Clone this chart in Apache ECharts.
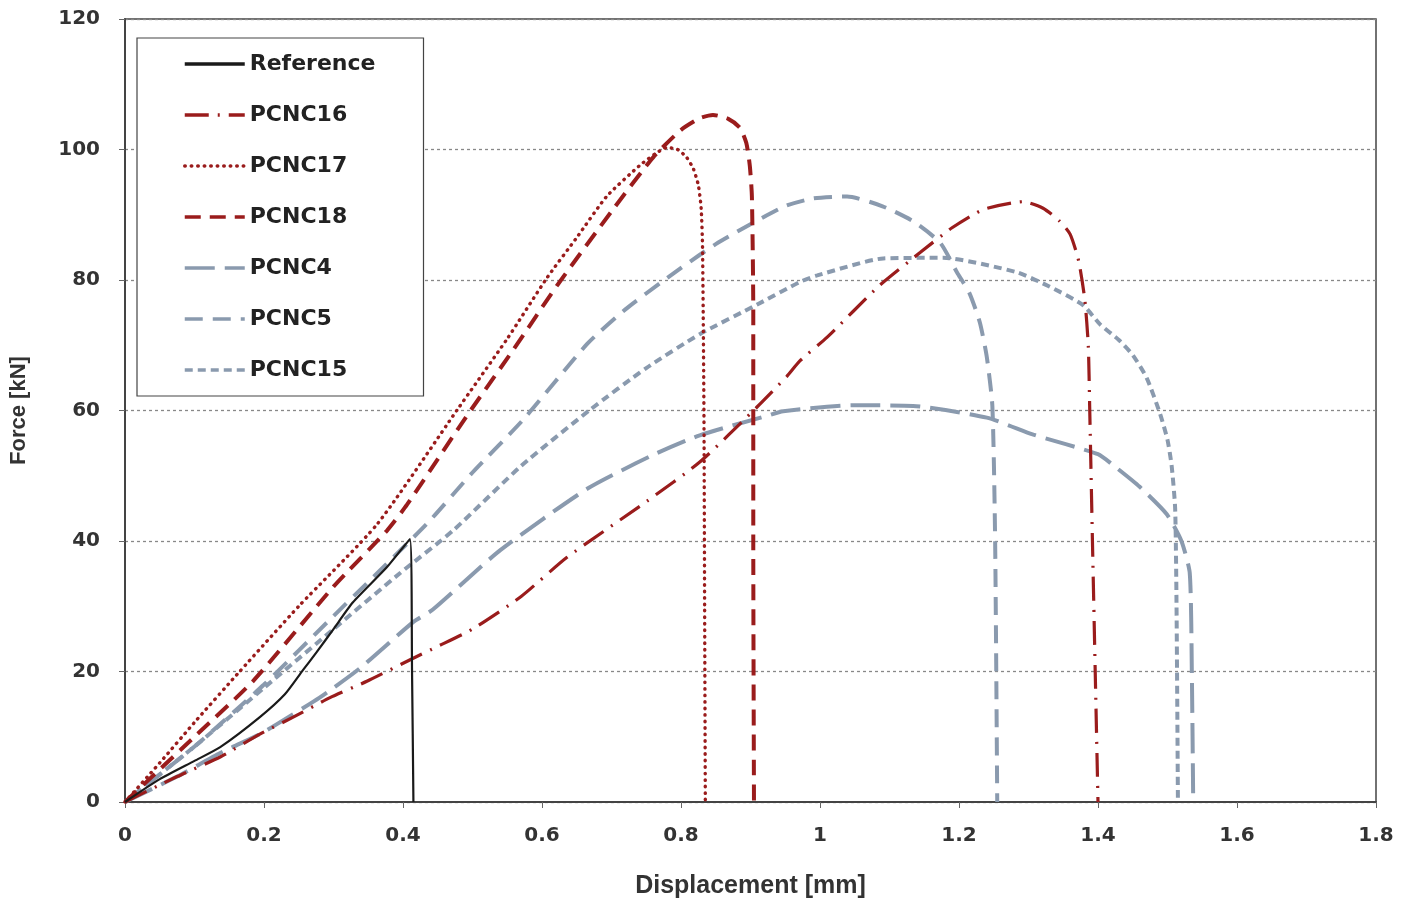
<!DOCTYPE html>
<html>
<head>
<meta charset="utf-8">
<script src="https://cdn.jsdelivr.net/npm/echarts@6/dist/echarts.min.js"></script>
<style>
html,body{margin:0;padding:0;background:#fff;}
#chart{width:1406px;height:904px;}
</style>
</head>
<body>
<div id="chart"></div>
<script>
// ---- data (displacement mm, force kN) ----
const seriesNames = ['Reference','PCNC16','PCNC17','PCNC18','PCNC4','PCNC5','PCNC15'];
const xTicks = [0,0.2,0.4,0.6,0.8,1,1.2,1.4,1.6,1.8];
const yTicks = [0,20,40,60,80,100,120];

const refData = [[0,0],[0.05,3.5],[0.1,6.3],[0.137,8.4],[0.194,13],[0.23,16.5],[0.256,20.2],[0.276,23],[0.3,26.5],[0.328,30.6],[0.377,36],[0.41,40.3],[0.413,20],[0.415,0]];
const pcnc16Data = [[0,0],[0.075,3.9],[0.137,6.9],[0.194,10.4],[0.242,13],[0.295,16],[0.348,18.5],[0.414,22],[0.449,23.8],[0.5,26.5],[0.57,31.5],[0.636,37.5],[0.751,46.1],[0.827,52.1],[0.909,60.5],[0.952,65.2],[0.971,67.6],[1.01,71.2],[1.086,79.2],[1.144,84.2],[1.19,88],[1.235,90.8],[1.292,92],[1.321,91],[1.345,89],[1.36,87],[1.372,83],[1.381,77],[1.386,70],[1.388,60.7],[1.392,40],[1.396,20],[1.4,0]];
const pcnc17Data = [[0,0],[0.05,6],[0.1,12.2],[0.165,20],[0.25,30],[0.363,42.6],[0.478,60.1],[0.55,71],[0.607,80.3],[0.65,86.5],[0.693,92.8],[0.74,97.5],[0.765,99.5],[0.78,100.3],[0.795,100],[0.808,98.8],[0.818,97],[0.825,94.5],[0.829,91],[0.831,85],[0.833,60],[0.834,30],[0.835,0]];
const pcnc18Data = [[0,0],[0.1,10],[0.184,18.5],[0.3,33],[0.377,41.6],[0.406,45.6],[0.492,59.2],[0.56,69.5],[0.622,79.2],[0.702,90.8],[0.76,98.8],[0.8,103],[0.827,104.8],[0.846,105.3],[0.868,104.7],[0.885,103.3],[0.894,101],[0.899,97.5],[0.902,92.8],[0.904,75],[0.904,40],[0.905,0]];
const pcnc4Data = [[0,0],[0.075,3.9],[0.137,7.5],[0.194,10.4],[0.218,11.9],[0.28,16],[0.338,20.5],[0.415,27.6],[0.443,29.5],[0.54,38.6],[0.665,48],[0.76,53.2],[0.827,56.2],[0.924,59.2],[0.947,59.9],[1.047,60.8],[1.134,60.7],[1.24,58.9],[1.307,56.3],[1.4,53.3],[1.422,51.6],[1.46,48.3],[1.499,44.1],[1.52,40],[1.532,35.1],[1.535,20],[1.537,0]];
const pcnc5Data = [[0,0],[0.1,8.5],[0.2,18],[0.3,28.5],[0.434,42.6],[0.5,50.5],[0.573,58.6],[0.665,70.2],[0.72,75.5],[0.78,80.3],[0.85,85.5],[0.947,91.2],[0.99,92.5],[1.039,92.8],[1.09,91.3],[1.134,89],[1.173,85.7],[1.197,81.2],[1.215,78],[1.23,73.5],[1.24,68.2],[1.248,60.7],[1.252,40],[1.255,0]];
const pcnc15Data = [[0,0],[0.1,8.5],[0.2,17.5],[0.3,26.5],[0.396,35.1],[0.472,41.6],[0.57,51.5],[0.669,60.1],[0.75,66.5],[0.827,71.7],[0.909,76.2],[0.971,79.7],[0.996,80.7],[1.091,83.3],[1.177,83.4],[1.283,81.2],[1.33,79],[1.378,76.2],[1.403,73.2],[1.43,70.8],[1.45,68.5],[1.47,65],[1.489,59.6],[1.5,55.5],[1.506,51.5],[1.511,45],[1.513,30],[1.515,0]];

// ---- styles ----
const RED = '#9a1c1c';
const BLUE = '#8a9aae';
const styles = [
  {color:'#1a1a1a', width:2.2, type:'solid', cap:'butt'},
  {color:RED, width:3.2, type:[24,9,2,9], cap:'butt'},
  {color:RED, width:3.4, type:[0.5,6], cap:'round'},
  {color:RED, width:4, type:[16,9], cap:'butt'},
  {color:BLUE, width:4, type:[30,10], cap:'butt'},
  {color:BLUE, width:4, type:[18,10], cap:'butt'},
  {color:BLUE, width:4, type:[8,5], cap:'butt'}
];
const datasets = [refData,pcnc16Data,pcnc17Data,pcnc18Data,pcnc4Data,pcnc5Data,pcnc15Data];

const chart = echarts.init(document.getElementById('chart'));
const labelFont = {fontFamily:'DejaVu Sans', fontWeight:'bold', fontSize:20, color:'#333'};

chart.setOption({
  animation:false,
  backgroundColor:'#fff',
  grid:{left:125,right:30,top:19,bottom:88,show:true,borderColor:'#444',borderWidth:1.5,backgroundColor:'transparent'},
  legend:{
    orient:'vertical', left:137, top:38,
    data:seriesNames,
    backgroundColor:'#fff',
    borderColor:'#444', borderWidth:1.2,
    padding:[15,48,15,46],
    itemWidth:60, itemHeight:14, itemGap:29,
    itemStyle:{opacity:0},
    lineStyle:{width:3.5},
    textStyle:{fontFamily:'DejaVu Sans', fontWeight:'bold', fontSize:22, color:'#222'}
  },
  xAxis:{
    type:'value', min:0, max:1.8, interval:0.2,
    name:'Displacement [mm]', nameLocation:'middle', nameGap:72,
    nameTextStyle:{fontFamily:'Liberation Sans', fontWeight:'bold', fontSize:25, color:'#333'},
    axisLine:{show:true,lineStyle:{color:'#444',width:2}},
    axisTick:{show:true,inside:false,length:6,lineStyle:{color:'#666'}},
    axisLabel:Object.assign({margin:24, formatter:v=>String(parseFloat(v.toFixed(1)))}, labelFont),
    splitLine:{show:false}
  },
  yAxis:{
    type:'value', min:0, max:120, interval:20,
    name:'Force [kN]', nameLocation:'middle', nameGap:95, nameRotate:90,
    nameTextStyle:{fontFamily:'Liberation Sans', fontWeight:'bold', fontSize:22, color:'#333'},
    axisLine:{show:true,lineStyle:{color:'#444',width:2}},
    axisTick:{show:true,inside:false,length:6,lineStyle:{color:'#666'}},
    axisLabel:Object.assign({margin:25}, labelFont),
    splitLine:{show:true,lineStyle:{color:'#888',width:1.3,type:[3,3]}}
  },
  series: seriesNames.map((n,i)=>({
    name:n, type:'line', data:datasets[i],
    symbol:'none', smooth:0.2, z: 10-i,
    lineStyle:{color:styles[i].color, width:styles[i].width, type:styles[i].type, cap:styles[i].cap},
    itemStyle:{color:styles[i].color}
  }))
});
</script>
</body>
</html>
